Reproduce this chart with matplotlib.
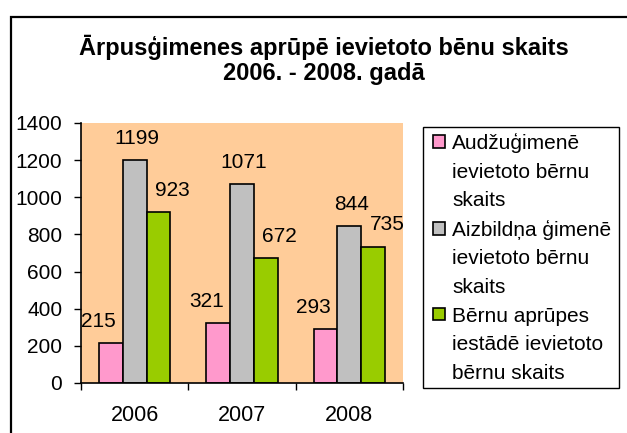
import numpy as np
import matplotlib.pyplot as plt
from matplotlib.patches import Rectangle

plt.rcParams['font.family'] = ['Liberation Sans', 'DejaVu Sans']

# dati
years = ['2006', '2007', '2008']
audzu = [215, 321, 293]
aizbildna = [1199, 1071, 844]
iestade = [923, 672, 735]
series_names = ['Audžuģimenē\nievietoto bērnu\nskaits',
                'Aizbildņa ģimenē\nievietoto bērnu\nskaits',
                'Bērnu aprūpes\niestādē ievietoto\nbērnu skaits']
colors = ['#FF99CC', '#C0C0C0', '#99CC00']
label_dx = [-12, 2, 14]  # pikseļos

fig = plt.figure(figsize=(6.27, 4.33), dpi=100)
W, H = 627, 433

# ārējais rāmis (labā un apakšējā mala ārpus attēla)
fig.patches.append(Rectangle((11 / W, -0.1), 1.1, 1.1 - 17 / H,
                             transform=fig.transFigure, fill=False,
                             edgecolor='black', linewidth=1.6))

ax = fig.add_axes([81 / W, 1 - 383 / H, (403 - 81) / W, (383 - 123) / H])
ax.set_facecolor('#FFCC99')

x = np.arange(len(years))
w = 1 / 4.5
for i, vals in enumerate([audzu, aizbildna, iestade]):
    pos = x + (i - 1) * w
    ax.bar(pos, vals, width=w, color=colors[i], edgecolor='black',
           linewidth=1.2, label=series_names[i], zorder=2)
    for px, v in zip(pos, vals):
        ax.annotate(str(v), (px, v), xytext=(label_dx[i], 12),
                    textcoords='offset pixels', ha='center', va='bottom',
                    fontsize=15)

ax.set_xlim(-0.5, 2.5)
ax.set_ylim(0, 1400)
ax.set_yticks(np.arange(0, 1401, 200))
ax.set_xticks(x)
ax.set_xticklabels(years)
ax.set_xticks([-0.5, 0.5, 1.5, 2.5], minor=True)
ax.tick_params(axis='x', which='major', length=0, pad=16, labelsize=15.5)
ax.tick_params(axis='x', which='minor', length=5, width=1)
ax.tick_params(axis='y', length=5, width=1, pad=8.5, labelsize=15)
for s in ['top', 'right']:
    ax.spines[s].set_visible(False)
for s in ['left', 'bottom']:
    ax.spines[s].set_linewidth(1.2)

# leģenda: katra rinda atsevišķi, lai kvadrāts būtu pie pirmās rindas
handles, labels = [], []
for i, name in enumerate(series_names):
    for j, line in enumerate(name.split('\n')):
        if j == 0:
            handles.append(Rectangle((0, 0), 1, 1, facecolor=colors[i],
                                     edgecolor='black', linewidth=1.2))
        else:
            handles.append(Rectangle((0, 0), 1, 1, visible=False))
        labels.append(line)

leg = fig.legend(handles, labels, loc='upper left',
                 bbox_to_anchor=(433 / W, 1 - 133 / H),
                 fontsize=15, frameon=False,
                 handlelength=0.56, handleheight=0.56, handletextpad=0.37,
                 labelspacing=0.46, borderpad=0, borderaxespad=0)
fig.patches.append(Rectangle((423 / W, 1 - 388 / H), (619 - 423) / W,
                             (388 - 127) / H, transform=fig.transFigure,
                             facecolor='white', edgecolor='black',
                             linewidth=1.0, zorder=0))

# virsraksts
fig.text(324 / W, 1 - 55 / H, 'Ārpusģimenes aprūpē ievietoto bēnu skaits',
         ha='center', va='baseline', fontsize=17, fontweight='bold')
fig.text(324 / W, 1 - 80 / H, '2006. - 2008. gadā',
         ha='center', va='baseline', fontsize=17, fontweight='bold')

fig.savefig('out.png', dpi=100)
